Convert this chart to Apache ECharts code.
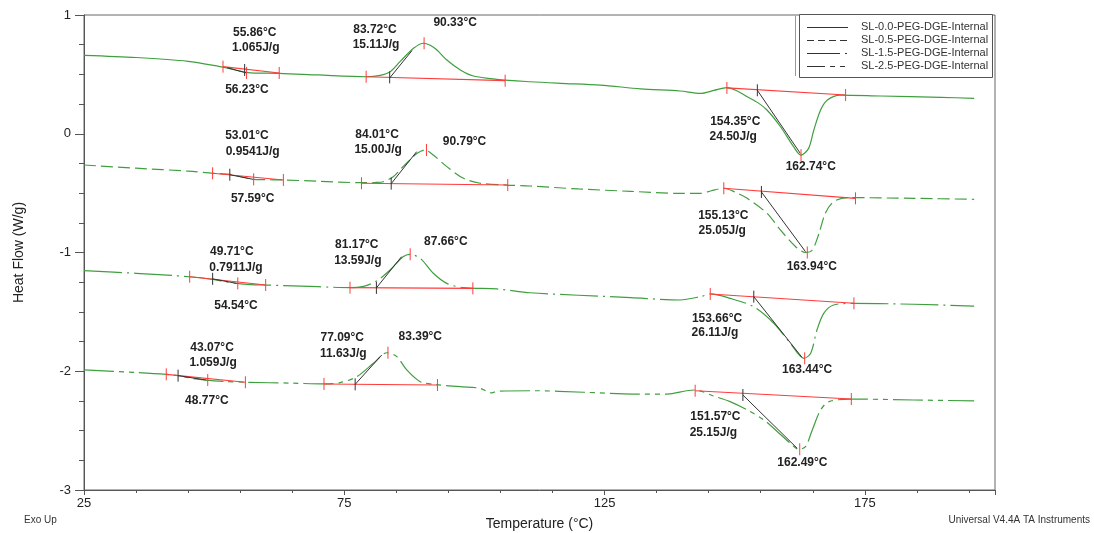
<!DOCTYPE html>
<html>
<head>
<meta charset="utf-8">
<script src="https://cdn.jsdelivr.net/npm/echarts@6/dist/echarts.min.js"></script>
<style>
html,body{margin:0;padding:0;background:#fff;}
#chart{width:1094px;height:533px;}
</style>
</head>
<body>
<div id="chart"></div>
<script>
// ---------- DATA ----------
const seriesNames = ['SL-0.0-PEG-DGE-Internal','SL-0.5-PEG-DGE-Internal','SL-1.5-PEG-DGE-Internal','SL-2.5-PEG-DGE-Internal'];
const xTicks = [25, 75, 125, 175];
const yTicks = [1, 0, -1, -2, -3];

// [Temperature °C, Heat Flow W/g]
const curve00 = [[25,0.660],[35,0.642],[45,0.610],[51.1,0.565],[53,0.548],[55,0.528],[56.5,0.514],[58,0.511],[62.6,0.509],[70,0.495],[79.3,0.480],[81.9,0.492],[83.8,0.523],[85.7,0.607],[88.3,0.720],[90.2,0.762],[91.5,0.745],[92.8,0.705],[94.7,0.621],[97.3,0.537],[99.8,0.486],[104.3,0.458],[110.7,0.438],[116.5,0.425],[124.2,0.410],[131.9,0.378],[139.5,0.360],[143.4,0.340],[146,0.365],[148.5,0.388],[150.5,0.360],[152.4,0.312],[154.5,0.260],[156.2,0.200],[158.8,0.059],[161.3,-0.109],[162.7,-0.180],[164.2,-0.123],[165.2,0.032],[166.5,0.200],[167.8,0.284],[170.3,0.326],[178,0.318],[189.6,0.307],[196,0.298]];
const curve05 = [[25,-0.263],[35,-0.290],[45,-0.315],[49.8,-0.333],[53,-0.341],[55,-0.360],[57.5,-0.384],[60,-0.387],[63.3,-0.389],[70,-0.400],[78,-0.412],[81,-0.410],[82.5,-0.404],[84.4,-0.362],[86,-0.290],[87.6,-0.221],[89,-0.165],[90.5,-0.137],[92.1,-0.179],[94.7,-0.277],[97.9,-0.375],[101.1,-0.417],[106.2,-0.432],[110.7,-0.440],[120,-0.465],[130,-0.485],[139.5,-0.502],[143.4,-0.502],[145.5,-0.480],[147.9,-0.459],[150,-0.490],[152.4,-0.544],[156.2,-0.670],[158.8,-0.811],[161.7,-0.951],[163.6,-1.000],[164.9,-0.979],[166.2,-0.838],[167.4,-0.670],[169,-0.572],[171.6,-0.538],[184.4,-0.544],[196,-0.552]];
const curve15 = [[25,-1.153],[35,-1.175],[45.3,-1.204],[49.8,-1.226],[52,-1.245],[54.3,-1.260],[57,-1.270],[60.1,-1.274],[70,-1.288],[76.1,-1.296],[78.7,-1.285],[81.2,-1.240],[83.8,-1.147],[86.3,-1.035],[87.6,-1.015],[89.6,-1.049],[92.1,-1.175],[94.7,-1.260],[97.9,-1.296],[104.3,-1.307],[110.7,-1.339],[120,-1.360],[130,-1.380],[139.5,-1.400],[143.4,-1.372],[145.3,-1.349],[149.1,-1.386],[153.6,-1.456],[157.5,-1.596],[160.7,-1.765],[163.3,-1.891],[164.6,-1.849],[165.8,-1.653],[167.1,-1.512],[169,-1.442],[172.9,-1.428],[184.4,-1.436],[196,-1.451]];
const curve25 = [[25,-1.989],[35,-2.010],[40.8,-2.026],[43.1,-2.037],[45.5,-2.058],[48.5,-2.074],[52,-2.085],[56.2,-2.093],[65,-2.100],[71,-2.107],[74.2,-2.096],[77.4,-2.046],[80.6,-1.933],[83.2,-1.844],[85.1,-1.877],[87,-1.989],[89.6,-2.088],[92.8,-2.113],[97.3,-2.130],[101.1,-2.144],[103.3,-2.182],[104.5,-2.168],[111.4,-2.164],[121,-2.177],[130.6,-2.192],[137,-2.192],[140.8,-2.164],[142.4,-2.158],[145.9,-2.208],[149.1,-2.256],[152.4,-2.326],[155.6,-2.410],[158.2,-2.509],[160.7,-2.607],[162.3,-2.657],[163.6,-2.635],[164.9,-2.495],[166.5,-2.326],[168.1,-2.256],[172.3,-2.234],[184.4,-2.242],[196,-2.250]];

// analysis baselines (red), each [start, end]
const baselines = [
  [[51.7,0.565],[62.5,0.512]], [[79.2,0.480],[105.9,0.447]], [[148.5,0.386],[171.3,0.326]],
  [[49.7,-0.333],[63.3,-0.389]], [[78.3,-0.417],[106.4,-0.432]], [[147.9,-0.459],[173.2,-0.544]],
  [[45.3,-1.204],[59.9,-1.274]], [[76.1,-1.296],[99.7,-1.302]], [[145.3,-1.349],[172.9,-1.428]],
  [[40.8,-2.026],[56.0,-2.093]], [[71.1,-2.107],[92.9,-2.116]], [[142.4,-2.164],[172.4,-2.234]]
];
// onset tangents (black)
const tangents = [
  [[52.5,0.556],[56.2,0.512]], [[83.72,0.470],[88.0,0.700]], [[154.35,0.366],[162.6,-0.165]],
  [[53.01,-0.345],[57.5,-0.384]], [[84.01,-0.420],[88.9,-0.151]], [[155.13,-0.490],[163.6,-0.993]],
  [[49.71,-1.222],[54.3,-1.260]], [[81.17,-1.298],[86.0,-1.035]], [[153.66,-1.372],[162.9,-1.882]],
  [[43.07,-2.037],[48.5,-2.074]], [[77.09,-2.110],[82.2,-1.863]], [[151.57,-2.200],[162.0,-2.649]]
];
// red ticks: integration limits, midpoints and peaks
const redTicks = [
  [51.7,0.565],[56.23,0.512],[62.5,0.512],[79.2,0.480],[105.9,0.447],[90.33,0.762],[148.5,0.386],[171.3,0.326],[162.74,-0.180],
  [49.7,-0.333],[57.59,-0.384],[63.3,-0.389],[78.3,-0.417],[106.4,-0.432],[90.79,-0.137],[147.9,-0.459],[173.2,-0.544],[163.94,-1.000],
  [45.3,-1.204],[54.54,-1.260],[59.9,-1.274],[76.1,-1.296],[99.7,-1.302],[87.66,-1.015],[145.3,-1.349],[172.9,-1.428],[163.44,-1.891],
  [40.8,-2.026],[48.77,-2.074],[56.0,-2.093],[71.1,-2.107],[92.9,-2.116],[83.39,-1.844],[142.4,-2.164],[172.4,-2.234],[162.49,-2.657]
];
// black ticks: onsets
const blackTicks = [
  [55.86,0.537],[83.72,0.475],[154.35,0.366],
  [53.01,-0.345],[84.01,-0.420],[155.13,-0.490],
  [49.71,-1.222],[81.17,-1.298],[153.66,-1.372],
  [43.07,-2.037],[77.09,-2.110],[151.57,-2.200]
];
// annotation texts with anchor (data coords)
const annotations = [
  [57.8,0.848,'55.86°C'],[58.0,0.722,'1.065J/g'],[56.3,0.368,'56.23°C'],
  [80.9,0.874,'83.72°C'],[81.1,0.747,'15.11J/g'],[96.3,0.933,'90.33°C'],
  [150.1,0.099,'154.35°C'],[149.7,-0.027,'24.50J/g'],[164.6,-0.280,'162.74°C'],
  [56.3,-0.019,'53.01°C'],[57.4,-0.154,'0.9541J/g'],[57.4,-0.549,'57.59°C'],
  [81.3,-0.011,'84.01°C'],[81.5,-0.137,'15.00J/g'],[98.1,-0.069,'90.79°C'],
  [147.8,-0.693,'155.13°C'],[147.6,-0.819,'25.05J/g'],[164.8,-1.122,'163.94°C'],
  [53.4,-0.996,'49.71°C'],[54.2,-1.131,'0.7911J/g'],[54.2,-1.451,'54.54°C'],
  [77.4,-0.937,'81.17°C'],[77.6,-1.072,'13.59J/g'],[94.5,-0.912,'87.66°C'],
  [146.6,-1.560,'153.66°C'],[146.2,-1.678,'26.11J/g'],[163.9,-1.989,'163.44°C'],
  [49.6,-1.804,'43.07°C'],[49.8,-1.930,'1.059J/g'],[48.6,-2.251,'48.77°C'],
  [74.6,-1.720,'77.09°C'],[74.8,-1.855,'11.63J/g'],[89.6,-1.712,'83.39°C'],
  [146.3,-2.385,'151.57°C'],[145.9,-2.520,'25.15J/g'],[163.0,-2.773,'162.49°C']
];

// ---------- CHART ----------
const FONT = '"Liberation Sans", Arial, sans-serif';
const GREEN = '#3f9f3f';
const curves = [curve00, curve05, curve15, curve25];
const dashes = ['solid', [12,5], [38,5,2,5], [30,5,5,5,5,5]];
const legendDashes = ['solid', [7,4], [33,5,2,5], [18,5,5,5,5,5]];

const chart = echarts.init(document.getElementById('chart'), null, {renderer:'canvas'});
const series = [];
curves.forEach((c, i) => {
  series.push({
    name: seriesNames[i], type: 'line', data: c, showSymbol: false, symbol: 'none',
    smooth: 0.3, z: 3,
    lineStyle: {color: GREEN, width: 1.2, type: dashes[i]},
    itemStyle: {color: GREEN}
  });
});
baselines.forEach(b => series.push({type:'line', data:b, symbol:'none', silent:true, z:4,
  lineStyle:{color:'#ff3b3b', width:1.1}}));
tangents.forEach(t => series.push({type:'line', data:t, symbol:'none', silent:true, z:5,
  lineStyle:{color:'#333', width:1}}));
function tickSeries(arr, color) {
  return {type:'custom', data: arr, z:6, silent:true, encode:{x:0,y:1},
    renderItem: (params, api) => {
      const p = api.coord([api.value(0), api.value(1)]);
      return {type:'line', shape:{x1:p[0], y1:p[1]-6, x2:p[0], y2:p[1]+6},
        style:{stroke:color, lineWidth:1}};
    }};
}
series.push(tickSeries(redTicks, '#ff3b3b'));
series.push(tickSeries(blackTicks, '#333'));
series.push({type:'custom', data: annotations.map(a => [a[0], a[1]]), z:7, silent:true, encode:{x:0,y:1},
  renderItem: (params, api) => {
    const p = api.coord([api.value(0), api.value(1)]);
    return {type:'text', x:p[0], y:p[1], style:{text: annotations[params.dataIndex][2],
      fill:'#222', font:'bold 12px ' + FONT, align:'center', verticalAlign:'middle'}};
  }});

// legend drawn as graphic elements (line samples with the series dash styles)
const legendGraphics = [
  {type:'rect', shape:{x:799.5, y:14.5, width:193, height:63}, style:{fill:'#fff', stroke:'#555', lineWidth:1}, z:10},
  {type:'line', shape:{x1:795.5, y1:16, x2:795.5, y2:76}, style:{stroke:'#999', lineWidth:1}, z:10}
];
seriesNames.forEach((n, i) => {
  const y = 27 + i * 13;
  legendGraphics.push({type:'line', shape:{x1:807, y1:y+0.5, x2:848, y2:y+0.5},
    style:{stroke:'#333', lineWidth:1, lineDash: legendDashes[i] === 'solid' ? null : legendDashes[i]}, z:11});
  legendGraphics.push({type:'text', x:861, y:y, style:{text:n, font:'11px ' + FONT, fill:'#333', verticalAlign:'middle'}, z:11});
});

chart.setOption({
  animation: false,
  backgroundColor: '#fff',
  grid: {left:84, right:99, top:15, bottom:43, show:true, borderColor:'#666', borderWidth:1,
    containLabel:false, outerBoundsMode:'none'},
  xAxis: {
    type:'value', min:25, max:200, interval:50,
    name:'Temperature (°C)', nameLocation:'middle', nameGap:27,
    nameTextStyle:{fontFamily:FONT, fontSize:14, color:'#222'},
    axisLine:{show:true, onZero:false, lineStyle:{color:'#555'}},
    axisTick:{show:true, length:5, lineStyle:{color:'#555'}},
    minorTick:{show:true, splitNumber:5, length:3, lineStyle:{color:'#555'}},
    axisLabel:{fontFamily:FONT, fontSize:13, color:'#222', margin:7, showMaxLabel:false,
      formatter: v => xTicks.includes(v) ? String(v) : ''},
    splitLine:{show:false}
  },
  yAxis: {
    type:'value', min:-3, max:1, interval:1,
    name:'Heat Flow (W/g)', nameLocation:'middle', nameGap:58, nameRotate:90,
    nameTextStyle:{fontFamily:FONT, fontSize:14, color:'#222'},
    axisLine:{show:true, onZero:false, lineStyle:{color:'#555'}},
    axisTick:{show:true, length:9, lineStyle:{color:'#555'}},
    minorTick:{show:true, splitNumber:4, length:5, lineStyle:{color:'#555'}},
    axisLabel:{fontFamily:FONT, fontSize:13, color:'#222', margin:13,
      formatter: v => yTicks.includes(v) ? String(v) : ''},
    splitLine:{show:false}
  },
  graphic: legendGraphics.concat([
    {type:'text', left:24, top:515, style:{text:'Exo Up', font:'10px ' + FONT, fill:'#333'}},
    {type:'text', right:4, top:515, style:{text:'Universal V4.4A TA Instruments', font:'10px ' + FONT, fill:'#333'}}
  ]),
  series: series
});
</script>
</body>
</html>
